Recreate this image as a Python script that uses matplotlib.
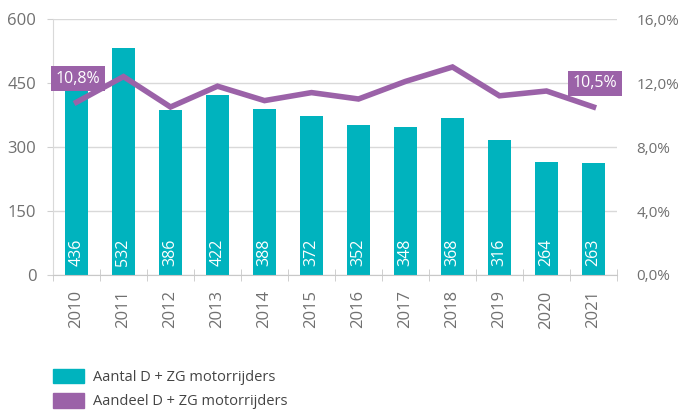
import matplotlib
matplotlib.use("Agg")
import matplotlib.pyplot as plt
from matplotlib.patches import Patch
from matplotlib.ticker import FixedLocator, FuncFormatter

years = ["2010", "2011", "2012", "2013", "2014", "2015", "2016", "2017", "2018", "2019", "2020", "2021"]
aantal = [436, 532, 386, 422, 388, 372, 352, 348, 368, 316, 264, 263]
aandeel = [10.8, 12.4, 10.5, 11.8, 10.9, 11.4, 11.0, 12.1, 13.0, 11.2, 11.5, 10.5]
left_ticks = [0, 150, 300, 450, 600]
right_ticks = [0, 4, 8, 12, 16]
series_names = ["Aantal D + ZG motorrijders", "Aandeel D + ZG motorrijders"]

teal = "#00B3BE"
purple = "#9B62A8"
gray = "#707070"

plt.rcParams['font.family'] = ['Open Sans', 'DejaVu Sans']

fig = plt.figure(figsize=(6.78, 4.12), dpi=100)
ax = fig.add_axes([53/678, 137/412, (617-53)/678, (275-19)/412])
x = list(range(len(years)))
ax.bar(x, aantal, width=0.5, color=teal, zorder=2)
ax.set_xlim(-0.5, len(years) - 0.5)
ax.set_ylim(0, 600)
ax.yaxis.set_major_locator(FixedLocator(left_ticks))
ax.grid(axis='y', color='#d9d9d9', linewidth=1, zorder=0)
ax.set_axisbelow(True)
for s in ['top', 'right']:
    ax.spines[s].set_visible(False)
ax.spines['left'].set_color('#d9d9d9')
ax.spines['bottom'].set_color('#c8c8c8')
ax.tick_params(axis='y', length=4, color='#d0d0d0', labelsize=12, labelcolor=gray, pad=8)
ax.set_xticks(x)
ax.set_xticklabels(years, rotation=90, fontsize=12, color=gray)
ax.tick_params(axis='x', which='major', length=0, pad=11)
ax.set_xticks([i - 0.5 for i in range(len(years) + 1)], minor=True)
ax.tick_params(axis='x', which='minor', length=8, color='#c8c8c8', direction='inout')

for xi, v in zip(x, aantal):
    ax.text(xi, 22, str(v), rotation=90, ha='center', va='bottom',
            color='white', fontsize=11.5, zorder=4)

ax2 = ax.twinx()
ax2.set_ylim(0, 16)
ax2.plot(x, aandeel, color=purple, linewidth=4, solid_joinstyle='miter', zorder=3)
ax2.yaxis.set_major_locator(FixedLocator(right_ticks))
ax2.yaxis.set_major_formatter(FuncFormatter(lambda v, p: f"{v:.1f}".replace('.', ',') + "%"))
ax2.tick_params(axis='y', length=0, labelsize=11, labelcolor=gray, pad=14)
for s in ax2.spines.values():
    s.set_visible(False)

for idx in (0, len(years) - 1):
    lbl = f"{aandeel[idx]:.1f}".replace('.', ',') + "%"
    ax2.annotate(lbl, (x[idx], aandeel[idx]), xytext=(1, 17), textcoords='offset points',
                 ha='center', va='center', color='white', fontsize=11.5,
                 bbox=dict(boxstyle='square,pad=0.3', fc=purple, ec='none'), zorder=5)

handles = [Patch(color=teal), Patch(color=purple)]
fig.legend(handles, series_names, loc='upper left', bbox_to_anchor=(53/678, 1 - 369/412),
           frameon=False, fontsize=10.5, labelcolor='#444444', handlelength=2.1, handleheight=1.15,
           handletextpad=0.65, labelspacing=0.55, borderpad=0, borderaxespad=0)

fig.savefig("out.png", dpi=100)
